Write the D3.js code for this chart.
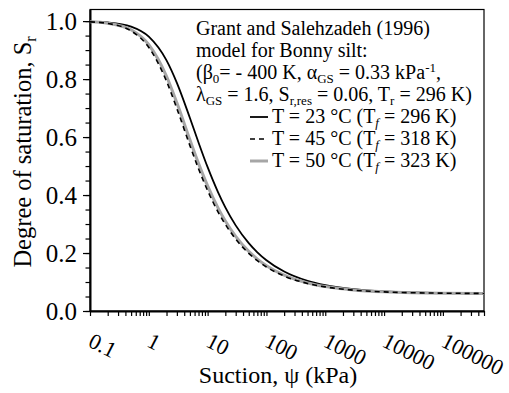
<!DOCTYPE html>
<html><head><meta charset="utf-8">
<script src="https://cdn.jsdelivr.net/npm/d3@7"></script>
<style>
body{margin:0;background:#fff}
svg{display:block}
text{font-family:"Liberation Serif","Times New Roman",serif;fill:#000}
</style>
</head><body>
<svg id="c" width="509" height="393"></svg>
<script>
// Suction values (kPa) at which the curves were read
const suction = [0.1,0.2,0.5,1,2,3,5,7,10,15,20,30,50,70,100,200,500,1000,3000,10000,30000,100000,500000];
// Degree of saturation, T = 23 °C (Tf = 296 K)
const srT23 = [0.9985,0.9955,0.9810,0.9463,0.8645,0.7870,0.6657,0.5813,0.4961,0.4102,0.3576,0.2953,0.2341,0.2025,0.1752,0.1361,0.1039,0.0890,0.0750,0.0673,0.0638,0.0618,0.0607];
// T = 45 °C (Tf = 318 K)
const srT45 = [0.9973,0.9918,0.9661,0.9092,0.7925,0.6983,0.5705,0.4908,0.4151,0.3422,0.2989,0.2482,0.1989,0.1736,0.1518,0.1206,0.0950,0.0831,0.0719,0.0658,0.0630,0.0615,0.0606];
// T = 50 °C (Tf = 323 K)
const srT50 = [0.9976,0.9928,0.9700,0.9184,0.8094,0.7180,0.5905,0.5092,0.4313,0.3556,0.3104,0.2573,0.2057,0.1792,0.1563,0.1236,0.0967,0.0842,0.0725,0.0661,0.0631,0.0615,0.0606];

const xTicks = [0.1,1,10,100,1000,10000,100000];
const xTickLabels = ["0.1","1","10","100","1000","10000","100000"];
const yTicks = [0,0.2,0.4,0.6,0.8,1.0];
const yTickLabels = ["0.0","0.2","0.4","0.6","0.8","1.0"];
const seriesNames = ["T = 23 °C (T","T = 45 °C (T","T = 50 °C (T"];
const seriesKelvin = [" = 296 K)"," = 318 K)"," = 323 K)"];

const svg = d3.select("#c");
const L = 90, R = 484, T = 9.5, B = 311;
const x = d3.scaleLog().domain([0.1, 500000]).range([L, R]);
const y = d3.scaleLinear().domain([0, 1.04]).range([B, T]);

// frame
svg.append("rect").attr("x", L).attr("y", T).attr("width", R - L).attr("height", B - T)
  .attr("fill", "none").attr("stroke", "#000").attr("stroke-width", 1.2);

// x ticks (decades and minor)
const xMinor = [];
for (let e = -1; e <= 5; e++) for (let m = 1; m <= 9; m++) { const v = m * Math.pow(10, e); if (v <= 500000.1) xMinor.push(v); }
const gx = svg.append("g").attr("transform", `translate(0,${B})`);
gx.call(d3.axisBottom(x).tickValues(xMinor).tickSize(5).tickSizeOuter(0).tickFormat(""));
gx.select(".domain").attr("stroke-width", 2);
gx.selectAll(".tick line").attr("stroke-width", 1.2);

// x labels (rotated)
svg.append("g").selectAll("text").data(xTicks).join("text")
  .attr("transform", d => `translate(${x(d) + 4},${B + 21}) rotate(27)`)
  .attr("dy", "0.7em")
  .style("font-size", "22px")
  .text((d, i) => xTickLabels[i]);

// y axis
const yMinor = d3.range(0, 1.0001, 0.05);
const gyMinor = svg.append("g").attr("transform", `translate(${L},0)`);
gyMinor.call(d3.axisLeft(y).tickValues(yMinor).tickSize(4.5).tickSizeOuter(0).tickFormat(""));
gyMinor.select(".domain").remove();
gyMinor.selectAll(".tick line").attr("stroke-width", 1.2);
const gy = svg.append("g").attr("transform", `translate(${L},0)`);
gy.call(d3.axisLeft(y).tickValues(yTicks).tickSize(7).tickSizeOuter(0).tickPadding(6).tickFormat((d, i) => yTickLabels[i]));
gy.select(".domain").attr("stroke-width", 2);
gy.selectAll(".tick line").attr("stroke-width", 1.2);
gy.selectAll(".tick text").style("font-size", "25px");
gx.attr("font-family", null); gy.attr("font-family", null);

// curves
const line = d3.line().x(d => x(d[0])).y(d => y(d[1])).curve(d3.curveMonotoneX);
const styles = [
  {data: srT23, color: "#000", width: 1.8, dash: null},
  {data: srT50, color: "#a6a6a6", width: 3, dash: null},
  {data: srT45, color: "#000", width: 1.6, dash: "5,4"}
];
styles.forEach(s => {
  svg.append("path").datum(suction.map((v, i) => [v, s.data[i]]))
    .attr("d", line).attr("fill", "none").attr("stroke", s.color)
    .attr("stroke-width", s.width).attr("stroke-dasharray", s.dash);
});

// rich text helper
function rich(x0, yb, parts, size) {
  const t = svg.append("text").attr("x", x0).attr("y", yb).style("font-size", size + "px");
  let shift = 0;
  parts.forEach(p => {
    const sp = t.append("tspan");
    let target = 0, fs = size;
    if (p.sub) { target = 4; fs = size * 0.65; }
    if (p.sup) { target = -7; fs = size * 0.65; }
    sp.attr("dy", target - shift).style("font-size", fs + "px");
    if (p.it) sp.style("font-style", "italic");
    sp.text(p.t);
    shift = target;
  });
  return t;
}
const tx = 196, fs = 20, row = 22, y0 = 35;
rich(tx, y0, [{t: "Grant and Salehzadeh (1996)"}], fs);
rich(tx, y0 + row, [{t: "model for Bonny silt:"}], fs);
rich(tx, y0 + 2 * row, [{t: "(β"}, {t: "0", sub: 1}, {t: "= - 400 K, α"}, {t: "GS", sub: 1}, {t: " = 0.33 kPa"}, {t: "-1", sup: 1}, {t: ","}], fs);
rich(tx, y0 + 3 * row, [{t: "λ"}, {t: "GS", sub: 1}, {t: " = 1.6, S"}, {t: "r,res", sub: 1}, {t: " = 0.06, T"}, {t: "r", sub: 1}, {t: " = 296 K)"}], fs);

// legend
const legStyle = [styles[0], styles[2], styles[1]];
[0, 1, 2].forEach(i => {
  const yy = y0 + (4 + i) * row;
  const s = legStyle[i];
  svg.append("line").attr("x1", 250).attr("x2", 268).attr("y1", yy - 6).attr("y2", yy - 6)
    .attr("stroke", s.color).attr("stroke-width", s.width).attr("stroke-dasharray", s.dash);
  rich(272, yy, [{t: seriesNames[i]}, {t: "f", sub: 1, it: 1}, {t: seriesKelvin[i]}], fs);
});

// axis titles
svg.append("text").attr("x", 278).attr("y", 383).attr("text-anchor", "middle")
  .style("font-size", "24px").text("Suction, ψ (kPa)");
const yt = svg.append("text").attr("transform", "translate(31,152) rotate(-90)")
  .attr("text-anchor", "middle").style("font-size", "24.5px");
yt.append("tspan").text("Degree of saturation, S");
yt.append("tspan").attr("dy", 5).style("font-size", "16px").text("r");
</script>
</body></html>
